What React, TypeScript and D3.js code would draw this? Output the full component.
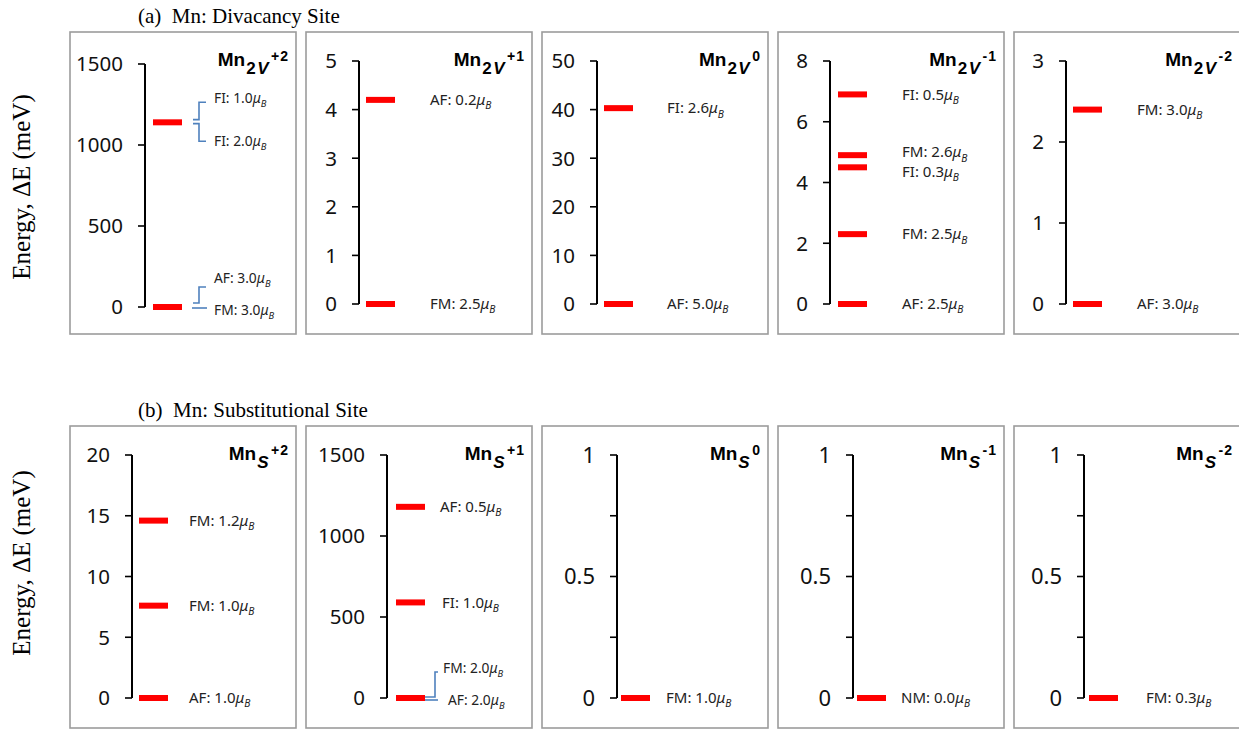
import React from "react";
import * as d3 from "d3";

// ---------- DATA ----------
const divCharges = ["+2", "+1", "0", "-1", "-2"];
const divTicks = [
  [0, 500, 1000, 1500],
  [0, 1, 2, 3, 4, 5],
  [0, 10, 20, 30, 40, 50],
  [0, 2, 4, 6, 8],
  [0, 1, 2, 3],
];
const divTickLabels = [
  ["0", "500", "1000", "1500"],
  ["0", "1", "2", "3", "4", "5"],
  ["0", "10", "20", "30", "40", "50"],
  ["0", "2", "4", "6", "8"],
  ["0", "1", "2", "3"],
];
const divEnergies = [
  [1140, 1140, 0, 0],
  [4.2, 0],
  [40.3, 0],
  [6.9, 4.9, 4.5, 2.3, 0],
  [2.4, 0],
];
const divOrders = [
  ["FI", "FI", "AF", "FM"],
  ["AF", "FM"],
  ["FI", "AF"],
  ["FI", "FM", "FI", "FM", "AF"],
  ["FM", "AF"],
];
const divMoments = [
  ["1.0", "2.0", "3.0", "3.0"],
  ["0.2", "2.5"],
  ["2.6", "5.0"],
  ["0.5", "2.6", "0.3", "2.5", "2.5"],
  ["3.0", "3.0"],
];

const subCharges = ["+2", "+1", "0", "-1", "-2"];
const subTicks = [
  [0, 5, 10, 15, 20],
  [0, 500, 1000, 1500],
  [0, 0.25, 0.5, 0.75, 1],
  [0, 0.25, 0.5, 0.75, 1],
  [0, 0.25, 0.5, 0.75, 1],
];
const subTickLabels = [
  ["0", "5", "10", "15", "20"],
  ["0", "500", "1000", "1500"],
  ["0", "", "0.5", "", "1"],
  ["0", "", "0.5", "", "1"],
  ["0", "", "0.5", "", "1"],
];
const subEnergies = [[14.6, 7.6, 0], [1180, 590, 0, 0], [0], [0], [0]];
const subOrders = [["FM", "FM", "AF"], ["AF", "FI", "FM", "AF"], ["FM"], ["NM"], ["FM"]];
const subMoments = [["1.2", "1.0", "1.0"], ["0.5", "1.0", "2.0", "2.0"], ["1.0"], ["0.0"], ["0.3"]];

const rowTitles = ["(a)  Mn: Divacancy Site", "(b)  Mn: Substitutional Site"];
const rowSubscripts = ["2V", "S"];
const yLabel = "Energy, \u0394E (meV)";

// ---------- LAYOUT ----------
const W = 1239;
const H = 729;
const boxLeft0 = 70;
const boxPitch = 236;
const boxW = 226;
const boxH = 302;
const rowTop = [32, 426];
const plotH = 243;
const axisOffsets = [
  [75, 53, 55, 52, 52],
  [62, 81, 75, 75, 70],
];
const plotTopOffsets = [
  [32, 29, 29, 29, 29],
  [29, 29, 29, 29, 29],
];
const barOffsets = [
  [8, 7, 7, 8, 7],
  [7, 9, 4, 4, 5],
];
const labelOffsets = [
  [69, 71, 70, 72, 71],
  [57, 53, 49, 48, 62],
];
const tickFont = [
  [20.5, 20.5, 20.5, 20.5, 20.5],
  [20.5, 20.5, 22, 22, 22],
];
const barW = 29;
const barH = 6;
const blue = "#4f81bd";

type Bracket = { x0: number; x1: number; x2: number; y0: number; y1: number };
type Override = { dx?: number; dy?: number; bracket?: Bracket; fs?: number };
const overrides: Record<string, Override> = {
  "0-0-0": { dy: -24, fs: 13.8, bracket: { x0: 48, x1: 54, x2: 61, y0: -2.7, y1: -20 } },
  "0-0-1": { dy: 19, fs: 13.8, bracket: { x0: 48, x1: 54, x2: 61, y0: 1.3, y1: 19 } },
  "0-0-2": { dy: -29, fs: 13.8, bracket: { x0: 48, x1: 54, x2: 61, y0: -4, y1: -20 } },
  "0-0-3": { dy: 3, fs: 13.8, bracket: { x0: 47, x1: 62, x2: 62, y0: 1, y1: 1 } },
  "0-3-1": { dy: -3 },
  "0-3-2": { dy: 4 },
  "1-1-1": { dx: 55 },
  "1-1-2": { dx: 56, dy: -30, fs: 13.8, bracket: { x0: 38, x1: 48, x2: 51, y0: -1, y1: -26 } },
  "1-1-3": { dx: 61, dy: 2, fs: 13.8, bracket: { x0: 38, x1: 51, x2: 51, y0: 2, y1: 2 } },
};

const labelFont = "'Noto Sans', 'Open Sans', sans-serif";

function StateLabel({ x, y, order, moment, fs }: { x: number; y: number; order: string; moment: string; fs: number }) {
  return (
    <text x={x} y={y + fs * 0.35} fontFamily={labelFont} fontSize={fs} fill="#222">
      {order}: {moment}
      <tspan fontStyle="italic">{"\u03bc"}</tspan>
      <tspan fontStyle="italic" fontSize={fs * 0.68} dy={fs * 0.28}>B</tspan>
    </text>
  );
}

function Panel({ row, i }: { row: number; i: number }) {
  const ticks = row === 0 ? divTicks[i] : subTicks[i];
  const tickLabels = row === 0 ? divTickLabels[i] : subTickLabels[i];
  const energies = row === 0 ? divEnergies[i] : subEnergies[i];
  const orders = row === 0 ? divOrders[i] : subOrders[i];
  const moments = row === 0 ? divMoments[i] : subMoments[i];
  const charge = row === 0 ? divCharges[i] : subCharges[i];

  const bx = boxLeft0 + i * boxPitch;
  const by = rowTop[row];
  const ax = bx + axisOffsets[row][i];
  const top = by + plotTopOffsets[row][i];
  const y = d3.scaleLinear().domain([0, d3.max(ticks) as number]).range([top + plotH, top]);
  const uniq = Array.from(new Set(energies));
  const tfs = tickFont[row][i];
  const sub = rowSubscripts[row];

  return (
    <g>
      <rect x={bx} y={by} width={boxW} height={boxH} fill="#fff" stroke="#9c9c9c" strokeWidth={1.6} />
      <line x1={ax} x2={ax} y1={y.range()[1]} y2={y.range()[0]} stroke="#000" strokeWidth={2} />
      {ticks.map((t, k) => (
        <g key={k}>
          <line x1={ax - 7} x2={ax} y1={y(t)} y2={y(t)} stroke="#000" strokeWidth={1.6} />
          {tickLabels[k] && (
            <text x={ax - 22} y={y(t) + tfs * 0.36} textAnchor="end" fontFamily={labelFont} fontSize={tfs} fill="#111">
              {tickLabels[k]}
            </text>
          )}
        </g>
      ))}
      {uniq.map((e, k) => (
        <rect key={k} x={ax + barOffsets[row][i]} y={y(e) - barH / 2} width={barW} height={barH} fill="#ff0000" />
      ))}
      {energies.map((e, k) => {
        const o = overrides[`${row}-${i}-${k}`] || {};
        const lx = ax + (o.dx ?? labelOffsets[row][i]);
        const ly = y(e) + (o.dy ?? 0);
        const fs = o.fs ?? 15;
        const b = o.bracket;
        return (
          <g key={k}>
            {b && (
              <path
                d={`M${ax + b.x0},${y(e) + b.y0}H${ax + b.x1}V${y(e) + b.y1}H${ax + b.x2}`}
                fill="none"
                stroke={blue}
                strokeWidth={1.6}
              />
            )}
            <StateLabel x={lx} y={ly} order={orders[k]} moment={moments[k]} fs={fs} />
          </g>
        );
      })}
      <text
        x={bx + boxW - 7}
        y={by + 34}
        textAnchor="end"
        fontFamily="'Liberation Sans', Arial, sans-serif"
        fontWeight="bold"
        fontSize={19}
        fill="#000"
      >
        Mn
        <tspan fontSize={17} dy={8} dx={1} letterSpacing={1.5}>
          {sub.length > 1 ? sub[0] : ""}
          <tspan fontStyle="italic">{sub.slice(-1)}</tspan>
        </tspan>
        <tspan fontSize={14} dy={-13} dx={1} letterSpacing={1}>{charge}</tspan>
      </text>
    </g>
  );
}

export default function App() {
  return (
    <div style={{ position: "absolute", left: 0, top: 0 }}>
      <svg width={W} height={H} viewBox={`0 0 ${W} ${H}`} style={{ display: "block", background: "#fff" }}>
        {[0, 1].map((row) => (
          <g key={row}>
            <text
              x={138}
              y={row === 0 ? 23 : 417}
              fontFamily="'Liberation Serif', 'Times New Roman', serif"
              fontSize={21}
              fill="#000"
              style={{ whiteSpace: "pre" }}
            >
              {rowTitles[row]}
            </text>
            <text
              transform={`translate(${30},${row === 0 ? 187 : 563}) rotate(-90)`}
              textAnchor="middle"
              fontFamily="'Liberation Serif', 'Times New Roman', serif"
              fontSize={25}
              fill="#000"
            >
              {yLabel}
            </text>
            {[0, 1, 2, 3, 4].map((i) => (
              <Panel key={i} row={row} i={i} />
            ))}
          </g>
        ))}
      </svg>
    </div>
  );
}
